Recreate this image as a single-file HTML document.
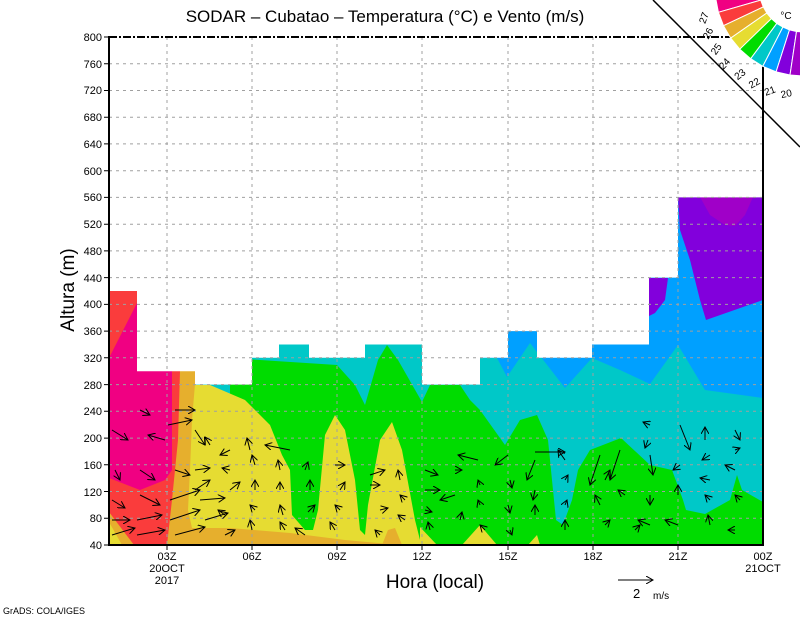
<!DOCTYPE html>
<html><head><meta charset="utf-8"><style>
html,body{margin:0;padding:0;background:#fff;}
svg{display:block;font-family:"Liberation Sans",sans-serif;}
</style></head><body>
<svg width="800" height="618" viewBox="0 0 800 618" xmlns="http://www.w3.org/2000/svg">
<defs>
<marker id="ah" markerWidth="8" markerHeight="8" refX="7" refY="4" orient="auto" markerUnits="userSpaceOnUse">
<path d="M0,0 L7,4 L0,8" fill="none" stroke="#000" stroke-width="1"/>
</marker>
<clipPath id="pc"><rect x="109" y="37" width="654" height="508"/></clipPath>
</defs>
<g clip-path="url(#pc)">
<rect x="109" y="37" width="654" height="508" fill="#00c8c8"/>
<polygon fill="#00a0ff" points="480,37 480,358 497,358 507,377 530,343 565,388 592,358 620,370 650,384 678,345 705,390 763,398 763,37"/>
<polygon fill="#8200dc" points="649,278 668,278 665,300 655,313 649,316"/>
<polygon fill="#8200dc" points="678,197 680,230 690,260 700,300 706,320 763,300 763,197"/>
<polygon fill="#a000c8" points="700,197 710,215 725,225 735,226 745,215 753,197"/>
<polygon fill="#00dc00" points="230,358 337,365 355,385 365,405 378,360 387,345 398,360 422,402 430,385 460,385 470,400 480,410 505,445 520,420 537,415 548,440 556,520 563,525 572,500 578,470 590,450 621,438 650,465 672,470 683,500 686,510 705,514 730,500 737,475 742,490 763,502 763,545 230,545"/>
<polygon fill="#e6dc32" points="180,371 195,371 195,385 210,385 245,400 270,425 282,455 290,470 292,515 305,530 313,530 318,510 325,435 335,415 345,430 355,480 360,530 365,535 368,505 380,440 392,422 402,450 415,520 420,540 425,545 175,545"/>
<polygon fill="#e6dc32" points="420,527 437,545 420,545"/>
<polygon fill="#e6dc32" points="462,545 480,525 497,545"/>
<polygon fill="#e6dc32" points="528,545 537,535 540,545"/>
<polygon fill="#e6af2d" points="172,371 195,371 195,384 192,420 190,470 188,510 192,528 230,528 290,533 345,540 400,545 165,545 170,470"/>
<polygon fill="#e6af2d" points="382,545 388,530 395,528 402,545"/>
<polygon fill="#fa3c3c" points="109,291 137,291 137,371 180,371 178,440 172,500 167,545 109,545"/>
<polygon fill="#f00082" points="109,358 137,303 137,371 172,371 172,470 165,480 140,490 109,478"/>
<polygon fill="#e6af2d" points="109,512 134,545 109,545"/>
<polygon fill="#e6dc32" points="109,522 122,545 109,545"/>
<polygon fill="#fff" points="109,37 763,37 763,197.4 678,197.4 678,277.6 649,277.6 649,344.5 592,344.5 592,357.8 537,357.8 537,331.1 508,331.1 508,357.8 480,357.8 480,384.6 422,384.6 422,344.5 365,344.5 365,357.8 309,357.8 309,344.5 279,344.5 279,357.8 252,357.8 252,384.6 195,384.6 195,371.2 137,371.2 137,291 109,291"/>
</g>
<g stroke="#a0a0a0" stroke-width="1" stroke-dasharray="3,4">
<path d="M109,63.7H763M109,90.5H763M109,117.2H763M109,143.9H763M109,170.7H763M109,197.4H763M109,224.2H763M109,250.9H763M109,277.6H763M109,304.4H763M109,331.1H763M109,357.8H763M109,384.6H763M109,411.3H763M109,438.1H763M109,464.8H763M109,491.5H763M109,518.3H763"/>
<path d="M167,37V545M252,37V545M337,37V545M422,37V545M508,37V545M593,37V545M678,37V545"/>
</g>
<g stroke="#000" stroke-width="1" fill="none" marker-end="url(#ah)">
<path d="M112,430 L128,440"/><path d="M140,410 L150,415"/><path d="M165,440 L148,435"/><path d="M175,410 L195,410"/>
<path d="M115,470 L120,480"/><path d="M140,470 L155,480"/><path d="M175,470 L190,475"/>
<path d="M112,500 L125,508"/><path d="M140,495 L160,505"/><path d="M170,500 L200,490"/>
<path d="M112,520 L130,520"/><path d="M137,520 L162,515"/><path d="M170,520 L200,510"/>
<path d="M112,535 L135,528"/><path d="M137,535 L165,530"/><path d="M175,535 L205,527"/>
<path d="M168,425 L192,420"/><path d="M195,430 L205,445"/><path d="M210,445 L205,437"/>
<path d="M195,470 L210,468"/><path d="M195,490 L210,480"/><path d="M200,500 L225,498"/><path d="M205,520 L228,513"/>
<path d="M230,450 L220,455"/><path d="M230,470 L222,468"/><path d="M230,490 L240,482"/><path d="M225,515 L218,510"/><path d="M225,535 L235,530"/>
<path d="M250,450 L247,438"/><path d="M255,465 L252,455"/><path d="M255,490 L255,480"/><path d="M255,510 L250,505"/><path d="M252,530 L250,520"/>
<path d="M290,450 L265,445"/><path d="M280,470 L278,460"/><path d="M280,490 L280,482"/><path d="M283,515 L280,505"/><path d="M285,530 L280,522"/>
<path d="M305,470 L308,462"/><path d="M310,490 L310,480"/><path d="M308,512 L315,505"/><path d="M305,535 L295,528"/>
<path d="M335,465 L345,465"/><path d="M340,490 L345,482"/><path d="M340,510 L335,505"/><path d="M335,530 L330,522"/>
<path d="M370,485 L380,485"/><path d="M370,475 L385,470"/><path d="M380,510 L388,508"/><path d="M380,535 L375,530"/>
<path d="M400,480 L398,470"/><path d="M405,500 L400,495"/><path d="M405,520 L398,515"/>
<path d="M425,470 L438,475"/><path d="M425,490 L440,490"/><path d="M425,510 L432,512"/><path d="M430,530 L428,522"/>
<path d="M455,470 L462,470"/><path d="M455,495 L440,500"/><path d="M460,520 L462,512"/>
<path d="M478,460 L458,455"/><path d="M480,485 L478,480"/><path d="M480,505 L478,500"/><path d="M485,530 L480,525"/>
<path d="M508,455 L495,465"/><path d="M510,480 L512,488"/><path d="M508,505 L510,513"/><path d="M510,530 L512,535"/>
<path d="M535,460 L527,480"/><path d="M535,490 L533,500"/><path d="M535,515 L535,505"/>
<path d="M535,452 L565,452"/><path d="M565,460 L558,450"/><path d="M565,480 L568,475"/><path d="M565,505 L567,500"/><path d="M565,530 L565,520"/>
<path d="M600,455 L590,485"/><path d="M605,480 L610,470"/><path d="M600,505 L595,495"/><path d="M605,525 L610,520"/>
<path d="M620,450 L610,480"/><path d="M625,495 L618,490"/><path d="M635,530 L640,525"/>
<path d="M650,425 L643,422"/><path d="M648,440 L645,448"/><path d="M650,455 L653,475"/><path d="M650,495 L650,505"/><path d="M650,525 L638,520"/>
<path d="M680,425 L690,450"/><path d="M680,465 L673,470"/><path d="M678,495 L678,485"/><path d="M678,525 L665,520"/>
<path d="M705,440 L705,427"/><path d="M710,455 L702,460"/><path d="M710,480 L700,478"/><path d="M710,500 L705,495"/><path d="M710,525 L708,515"/>
<path d="M735,430 L740,440"/><path d="M735,450 L740,448"/><path d="M735,470 L725,465"/><path d="M740,500 L735,495"/><path d="M735,530 L728,530"/>
</g>
<g stroke="#000" fill="none">
<path d="M109,36V546M108,545H764M763,36V546" stroke-width="2"/>
<path d="M109,37H763" stroke-width="2" stroke-dasharray="8,2,2,2"/>
<path d="M104,37H109M104,63.7H109M104,90.5H109M104,117.2H109M104,143.9H109M104,170.7H109M104,197.4H109M104,224.2H109M104,250.9H109M104,277.6H109M104,304.4H109M104,331.1H109M104,357.8H109M104,384.6H109M104,411.3H109M104,438.1H109M104,464.8H109M104,491.5H109M104,518.3H109M104,545H109" stroke-width="1"/>
<path d="M167,545V550M252,545V550M337,545V550M422,545V550M508,545V550M593,545V550M678,545V550" stroke-width="1"/>
</g>
<g font-size="11" text-anchor="end" fill="#000">
<text x="102" y="41">800</text><text x="102" y="68">760</text><text x="102" y="94">720</text><text x="102" y="121">680</text><text x="102" y="148">640</text><text x="102" y="175">600</text><text x="102" y="201">560</text><text x="102" y="228">520</text><text x="102" y="255">480</text><text x="102" y="282">440</text><text x="102" y="308">400</text><text x="102" y="335">360</text><text x="102" y="362">320</text><text x="102" y="389">280</text><text x="102" y="415">240</text><text x="102" y="442">200</text><text x="102" y="469">160</text><text x="102" y="496">120</text><text x="102" y="522">80</text><text x="102" y="549">40</text>
</g>
<g font-size="11" text-anchor="middle" fill="#000">
<text x="167" y="560">03Z</text><text x="167" y="572">20OCT</text><text x="167" y="584">2017</text>
<text x="252" y="560">06Z</text><text x="337" y="560">09Z</text><text x="422" y="560">12Z</text><text x="508" y="560">15Z</text><text x="593" y="560">18Z</text><text x="678" y="560">21Z</text>
<text x="763" y="560">00Z</text><text x="763" y="572">21OCT</text>
</g>
<text x="385" y="22" font-size="17" text-anchor="middle">SODAR – Cubatao – Temperatura (°C) e Vento (m/s)</text>
<text x="435" y="588" font-size="19" text-anchor="middle">Hora (local)</text>
<text transform="translate(74,290) rotate(-90)" font-size="19" text-anchor="middle">Altura (m)</text>
<path d="M618,580 H653" stroke="#000" fill="none" marker-end="url(#ah)"/>
<text x="633" y="598" font-size="13">2</text><text x="653" y="599" font-size="10">m/s</text>
<text x="3" y="614" font-size="9">GrADS: COLA/IGES</text>
<g stroke="#fff" stroke-width="1">
<polygon fill="#f00082" points="715.5,-2.8 718.4,12.3 760.7,0.1 759.2,-7.4"/>
<polygon fill="#fa3c3c" points="718.4,12.3 723.5,25.7 763.3,6.9 760.7,0.1"/>
<polygon fill="#e6af2d" points="723.5,25.7 730.7,38.1 766.8,13 763.3,6.9"/>
<polygon fill="#e6dc32" points="730.7,38.1 739.8,49.2 771.4,18.6 766.8,13"/>
<polygon fill="#00dc00" points="739.8,49.2 750.7,58.7 776.8,23.4 771.4,18.6"/>
<polygon fill="#00c8c8" points="750.7,58.7 762.8,66.3 782.9,27.1 776.8,23.4"/>
<polygon fill="#00a0ff" points="762.8,66.3 776.1,71.8 789.5,29.9 782.9,27.1"/>
<polygon fill="#8200dc" points="776.1,71.8 790,75 796.5,31.5 789.5,29.9"/>
<polygon fill="#a000c8" points="790,75 804.5,76 803.8,32 796.5,31.5"/>
</g>
<path d="M653,0 L800,147" stroke="#000" stroke-width="1.5"/>
<g font-size="10" fill="#000" text-anchor="middle">
<text transform="translate(707,19) rotate(-70)">27</text>
<text transform="translate(711,35) rotate(-62)">26</text>
<text transform="translate(719,51) rotate(-55)">25</text>
<text transform="translate(727,66) rotate(-47)">24</text>
<text transform="translate(742,77) rotate(-38)">23</text>
<text transform="translate(756,86) rotate(-30)">22</text>
<text transform="translate(771,94) rotate(-20)">21</text>
<text transform="translate(787,97) rotate(-12)">20</text>
<text x="786" y="19">°C</text>
</g>
</svg>
</body></html>
